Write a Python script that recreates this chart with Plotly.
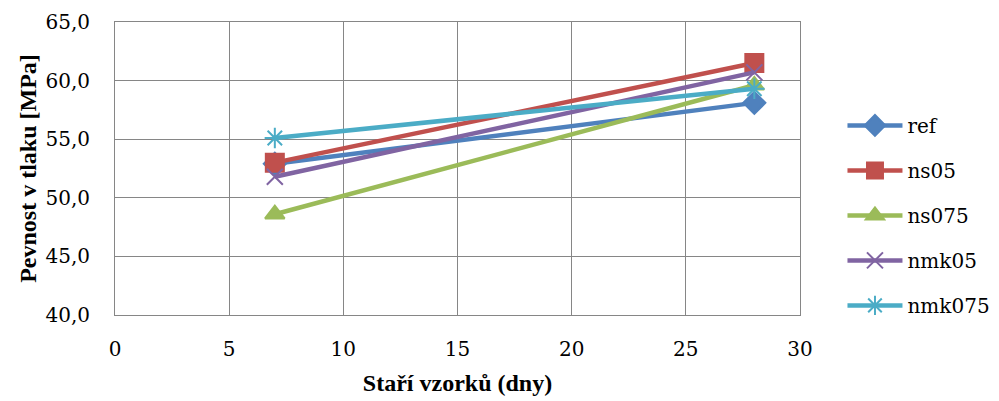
import plotly.graph_objects as go

days = [7, 28]
series_names = ["ref", "ns05", "ns075", "nmk05", "nmk075"]
ref = [52.9, 58.1]
ns05 = [53.0, 61.5]
ns075 = [48.6, 59.6]
nmk05 = [51.8, 60.7]
nmk075 = [55.1, 59.3]
y_ticks = [40, 45, 50, 55, 60, 65]
y_tick_labels = ["40,0", "45,0", "50,0", "55,0", "60,0", "65,0"]
x_ticks = [0, 5, 10, 15, 20, 25, 30]

values = [ref, ns05, ns075, nmk05, nmk075]
colors = ["#4F81BD", "#C0504D", "#9BBB59", "#8064A2", "#4BACC6"]
symbols = ["diamond", "square", "triangle-up", "x-thin-open", "asterisk-open"]
sizes = [17, 18, 17, 16, 17]

fig = go.Figure()
for name, vals, c, s, sz in zip(series_names, values, colors, symbols, sizes):
    fig.add_trace(go.Scatter(
        x=days, y=vals, name=name, mode="lines+markers",
        line=dict(color=c, width=4.5),
        marker=dict(symbol=s, size=sz, color=c, line=dict(color=c, width=2)),
        legendgroup=name,
    ))

TITLE_FAM = "Liberation Serif"
TEXT_FAM = "DejaVu Serif"
fig.update_layout(
    width=999, height=401,
    margin=dict(l=115, r=199, t=22, b=86, autoexpand=False),
    paper_bgcolor="white", plot_bgcolor="white",
    font=dict(family=TEXT_FAM, size=20, color="black"),
    showlegend=True,
    legend=dict(x=1.062, y=0.34, xanchor="left", yanchor="middle",
                tracegroupgap=16, font=dict(family=TEXT_FAM, size=20, color="black"), itemwidth=55),
    xaxis=dict(range=[0, 30], tickvals=x_ticks, showgrid=True, gridcolor="#868686",
               gridwidth=1, showline=True, linecolor="#868686", linewidth=1, mirror=True,
               zeroline=False, ticks="", ticklen=0, ticklabelstandoff=16,
               tickfont=dict(family=TEXT_FAM, size=20, color="black"),
               title=dict(text="<b>Staří vzorků (dny)</b>",
                          font=dict(family=TITLE_FAM, size=24, color="black"), standoff=14)),
    yaxis=dict(range=[40, 65], tickvals=y_ticks, ticktext=y_tick_labels, showgrid=True,
               gridcolor="#868686", gridwidth=1, showline=True, linecolor="#868686",
               linewidth=1, mirror=True, zeroline=False, ticks="", ticklabelstandoff=20,
               tickfont=dict(family=TEXT_FAM, size=20, color="black"),
               title=dict(text="<b>Pevnost v tlaku [MPa]</b>",
                          font=dict(family=TITLE_FAM, size=24, color="black"), standoff=2)),
)
fig.write_html("out.html")
